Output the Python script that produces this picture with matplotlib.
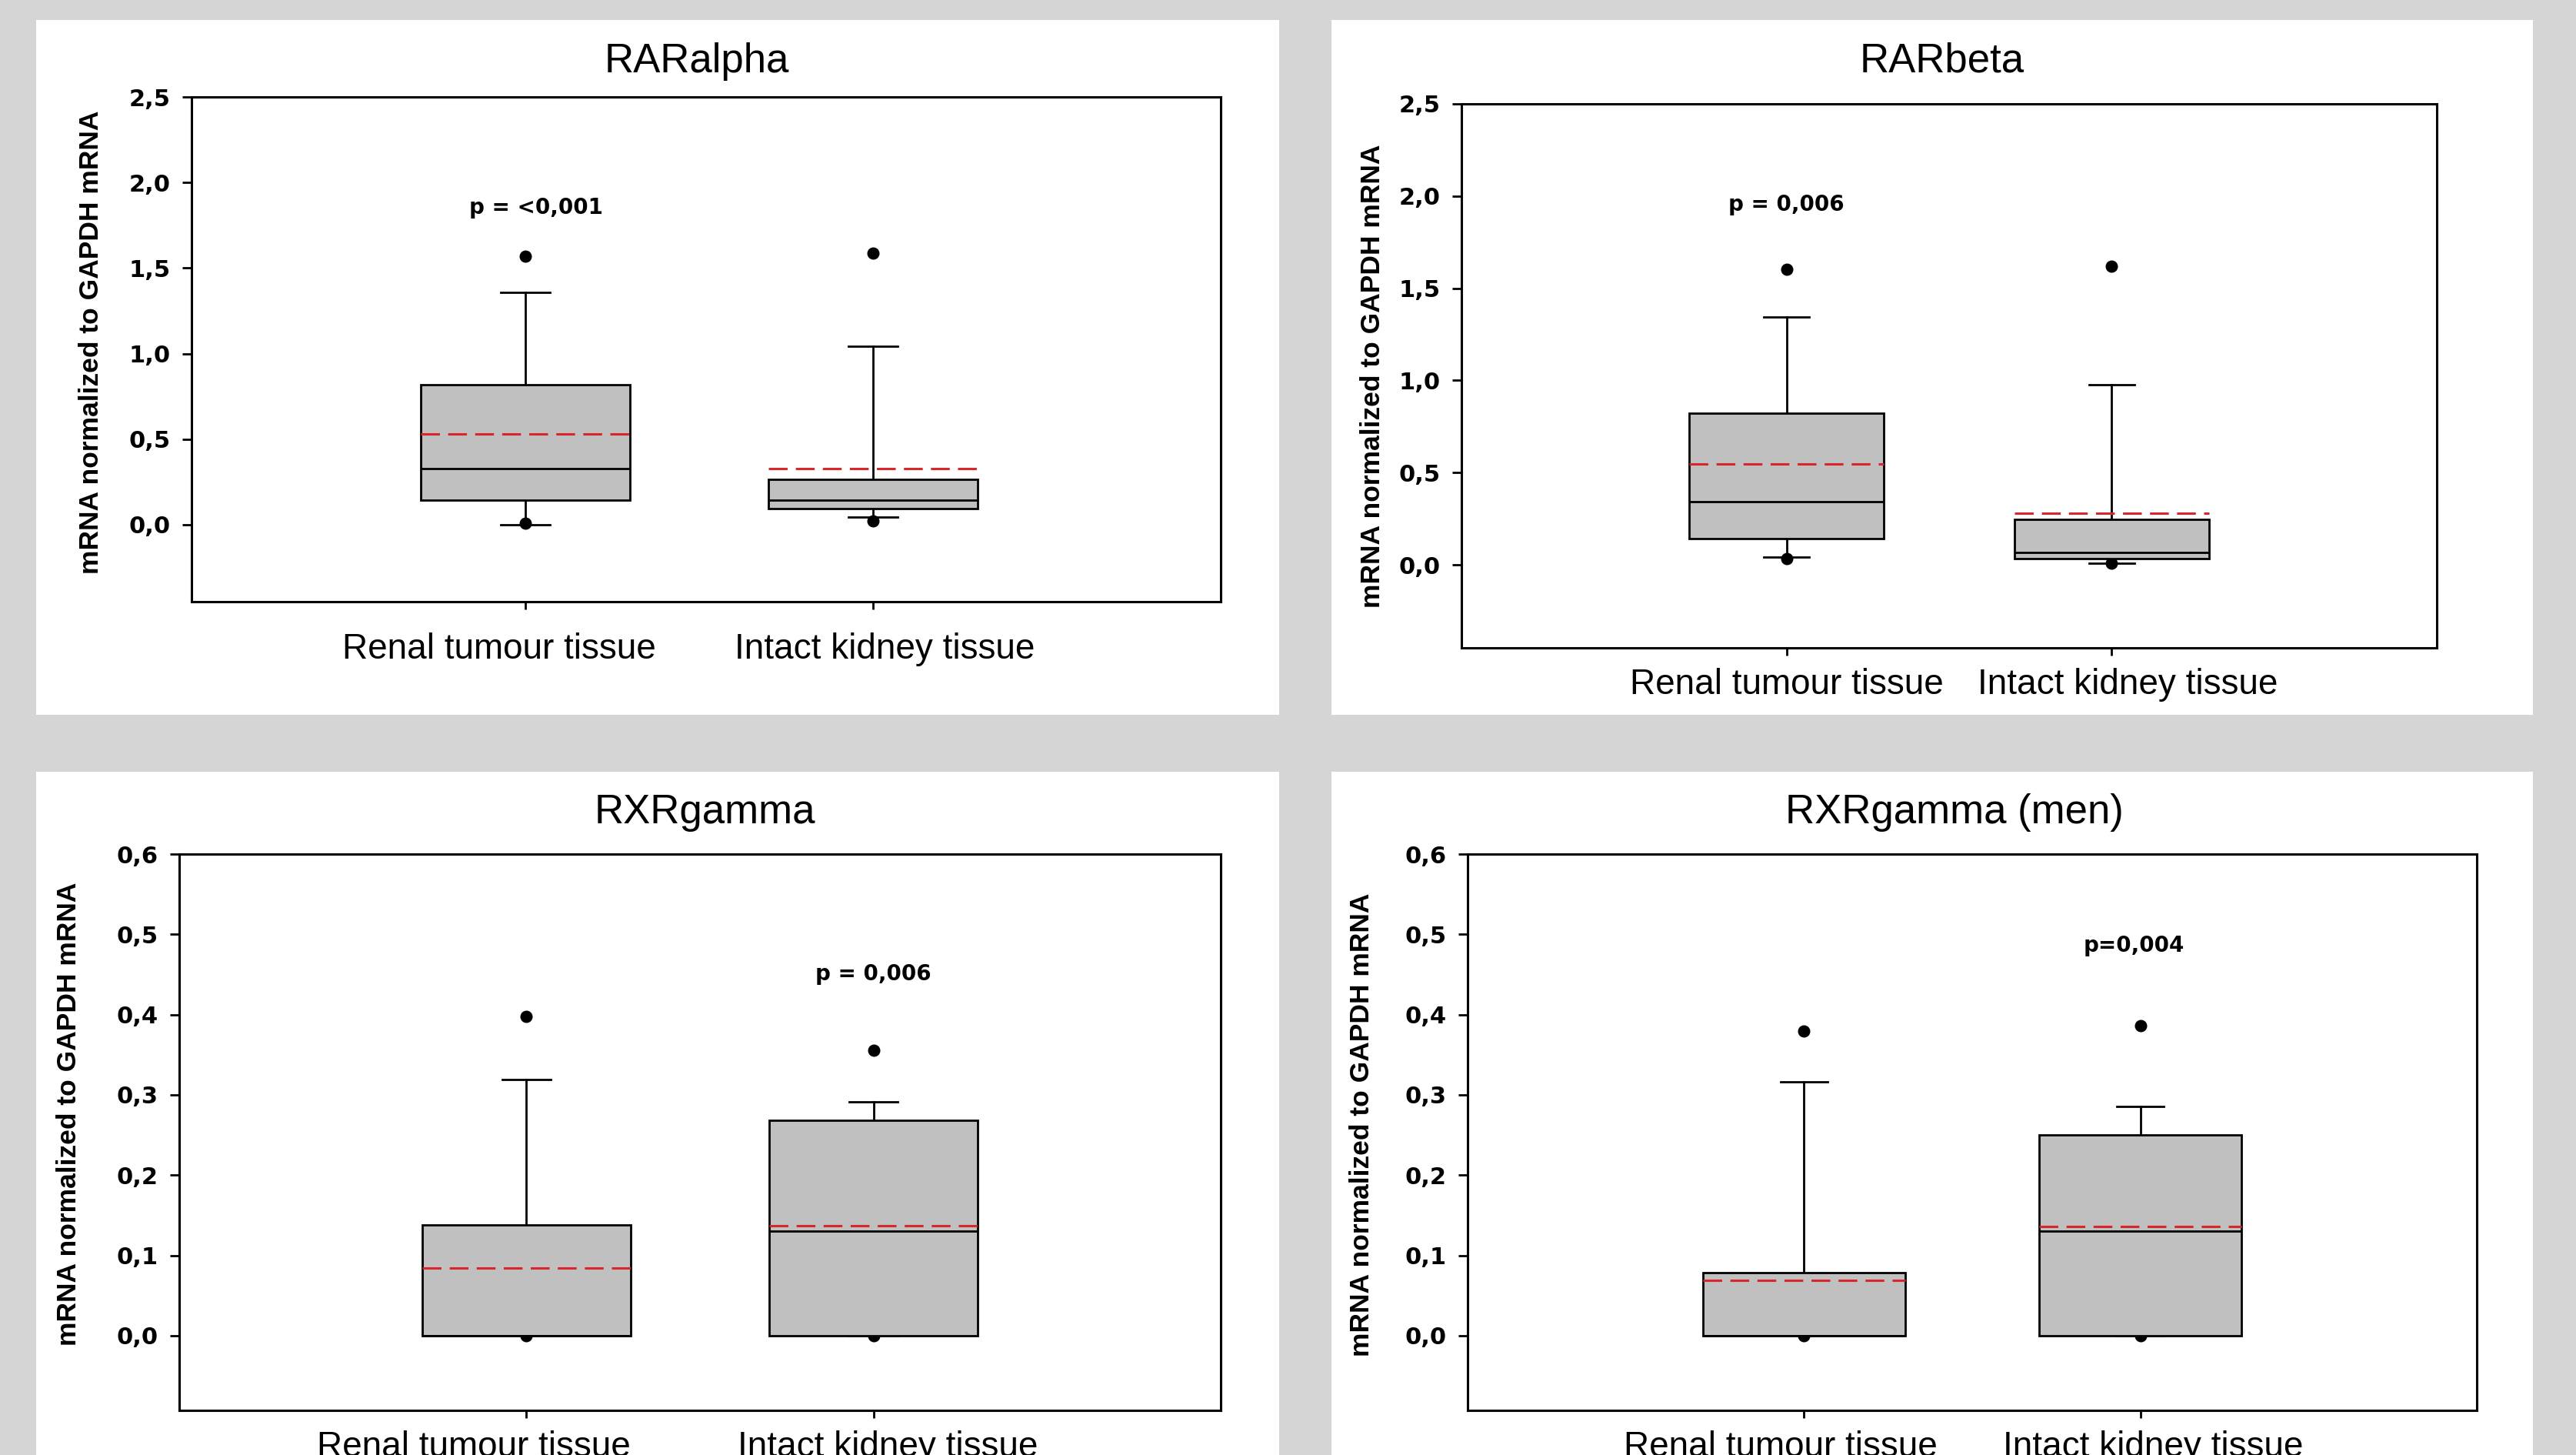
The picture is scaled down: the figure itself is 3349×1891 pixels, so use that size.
import numpy as np
import matplotlib.pyplot as plt
from matplotlib.patches import Rectangle
from matplotlib.ticker import FuncFormatter

# ---- data ----
titles = ["RARalpha", "RARbeta", "RXRgamma", "RXRgamma (men)"]
groups = ["Renal tumour tissue", "Intact kidney tissue"]
ylabel = "mRNA normalized to GAPDH mRNA"

# one entry per panel, each [renal, intact]
whislo = [[0.0, 0.046], [0.043, 0.008], [0.0, 0.0], [0.0, 0.0]]
q1 = [[0.145, 0.096], [0.144, 0.033], [0.0, 0.0], [0.0, 0.0]]
med = [[0.328, 0.145], [0.344, 0.066], [0.0, 0.130], [0.0, 0.130]]
mean = [[0.530, 0.328], [0.546, 0.281], [0.0845, 0.137], [0.069, 0.136]]
q3 = [[0.820, 0.265], [0.824, 0.248], [0.138, 0.268], [0.079, 0.250]]
whishi = [[1.358, 1.044], [1.345, 0.978], [0.319, 0.291], [0.316, 0.286]]
fliers = [[[0.008, 1.568], [0.020, 1.585]],
          [[0.033, 1.603], [0.008, 1.620]],
          [[0.0, 0.398], [0.0, 0.356]],
          [[0.0, 0.380], [0.0, 0.386]]]

p_text = ["p = <0,001", "p = 0,006", "p = 0,006", "p=0,004"]
p_pos = [(1.03, 1.815), (1.0, 1.92), (2.0, 0.4425), (1.98, 0.478)]

yticks = [np.arange(0, 2.51, 0.5), np.arange(0, 2.51, 0.5),
          np.arange(0, 0.61, 0.1), np.arange(0, 0.61, 0.1)]
ylims = [(-0.45, 2.5), (-0.45, 2.5), (-0.093, 0.6), (-0.093, 0.6)]
xlims = [(0.04, 3.0), (0.0, 3.0), (0.0, 3.0), (0.0, 3.0)]

# ---- layout in pixels (top-left origin) ----
W, H = 3349, 1891
panels = [(47, 26, 1663, 929), (1731, 26, 3293, 929),
          (47, 1003, 1663, 1891), (1731, 1003, 3293, 1891)]
axes_px = [(249, 126, 1587, 782), (1900, 135, 3168, 842),
           (233, 1110, 1587, 1833), (1908, 1110, 3220, 1833)]
title_px = [(906, 94), (2525, 94), (916, 1070), (2541, 1070)]
ylab_px = [(119, 445), (1784, 489), (90, 1448), (1770, 1462)]
xlab_drop = [29, 19, 19, 19]          # points below the bottom spine
# horizontal shift of each group label from its tick, px
xlab_shift = [(-34, 15), (0, 21), (-68, 19), (-30, 17)]

fig = plt.figure(figsize=(W / 100, H / 100), dpi=100)
fig.patch.set_facecolor("#d5d5d5")


def fx(x):
    return x / W


def fy(y):
    return 1 - y / H


for x0, y0, x1, y1 in panels:
    fig.patches.append(Rectangle((fx(x0), fy(y1)), fx(x1 - x0), (y1 - y0) / H,
                                 transform=fig.transFigure, facecolor="white",
                                 edgecolor="none", zorder=-10))

red = "#d9262b"
comma = FuncFormatter(lambda v, pos: ("%.1f" % v).replace(".", ","))
positions = [1, 2]

for k in range(4):
    x0, y0, x1, y1 = axes_px[k]
    ax = fig.add_axes([fx(x0), fy(y1), fx(x1 - x0), (y1 - y0) / H])
    ax.set_zorder(1)
    stats = []
    for g in range(2):
        stats.append(dict(whislo=whislo[k][g], q1=q1[k][g], med=med[k][g],
                          q3=q3[k][g], whishi=whishi[k][g], mean=mean[k][g],
                          fliers=fliers[k][g]))
    ax.bxp(stats, positions=positions, widths=0.6, capwidths=0.14,
           patch_artist=True, showmeans=True, meanline=True,
           boxprops=dict(facecolor="#c0c0c0", edgecolor="black", linewidth=2, zorder=3),
           medianprops=dict(color="black", linewidth=2, zorder=4),
           meanprops=dict(color=red, linewidth=2.2, linestyle=(0, (8, 3.5)), zorder=5),
           whiskerprops=dict(color="black", linewidth=2, zorder=2),
           capprops=dict(color="black", linewidth=2, zorder=2),
           flierprops=dict(marker="o", markerfacecolor="black", markeredgecolor="black",
                           markersize=10.5, zorder=1))
    ax.set_xlim(*xlims[k])
    ax.set_ylim(*ylims[k])
    ax.set_yticks(yticks[k])
    ax.yaxis.set_major_formatter(comma)
    ax.set_xticks(positions)
    ax.set_xticklabels([])
    for g in range(2):
        ax.annotate(groups[g], xy=(positions[g], 0), xycoords=ax.get_xaxis_transform(),
                    xytext=(xlab_shift[k][g] * 0.72, -xlab_drop[k]), textcoords="offset points",
                    ha="center", va="top", fontfamily="Liberation Sans", fontsize=33,
                    annotation_clip=False)
    for lab in ax.get_yticklabels():
        lab.set_fontfamily("DejaVu Sans")
        lab.set_fontweight("bold")
        lab.set_fontsize(22)
    ax.tick_params(axis="y", length=9, width=2, pad=11, direction="out")
    ax.tick_params(axis="x", length=7, width=2, direction="out")
    for s in ax.spines.values():
        s.set_linewidth(2.2)

    ax.text(p_pos[k][0], p_pos[k][1], p_text[k], ha="center", va="baseline",
            fontfamily="DejaVu Sans", fontweight="bold", fontsize=20)

    tx, ty = title_px[k]
    fig.text(fx(tx), fy(ty), titles[k], ha="center", va="baseline",
             fontfamily="Liberation Sans", fontsize=38)
    lx, ly = ylab_px[k]
    fig.text(fx(lx), fy(ly), ylabel, rotation=90, ha="center", va="center",
             fontfamily="Liberation Sans", fontweight="bold", fontsize=25.5)

fig.savefig("out.png", dpi=100, facecolor=fig.get_facecolor())
